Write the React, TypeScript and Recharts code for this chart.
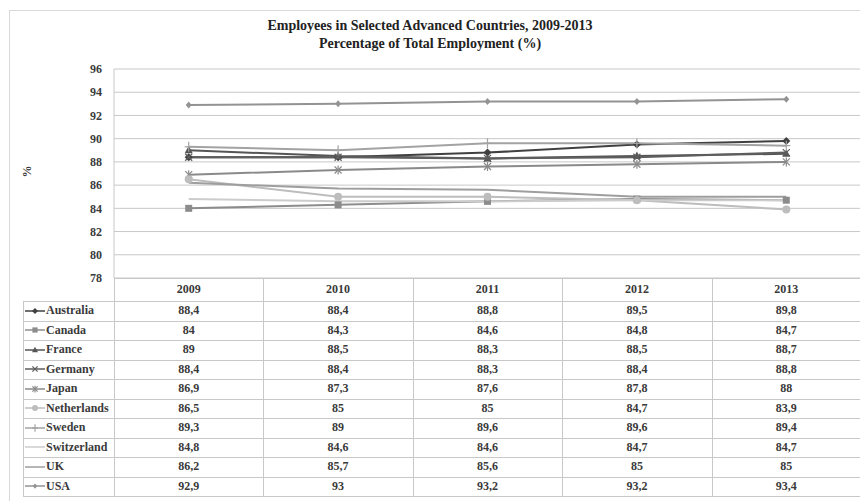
import React from 'react';
import { LineChart, Line, XAxis, YAxis, CartesianGrid } from 'recharts';

const years = ['2009', '2010', '2011', '2012', '2013'];
const yTicks = [78, 80, 82, 84, 86, 88, 90, 92, 94, 96];

const australia = [88.4, 88.4, 88.8, 89.5, 89.8];
const canada = [84, 84.3, 84.6, 84.8, 84.7];
const france = [89, 88.5, 88.3, 88.5, 88.7];
const germany = [88.4, 88.4, 88.3, 88.4, 88.8];
const japan = [86.9, 87.3, 87.6, 87.8, 88];
const netherlands = [86.5, 85, 85, 84.7, 83.9];
const sweden = [89.3, 89, 89.6, 89.6, 89.4];
const switzerland = [84.8, 84.6, 84.6, 84.7, 84.7];
const uk = [86.2, 85.7, 85.6, 85, 85];
const usa = [92.9, 93, 93.2, 93.2, 93.4];

type Shape = 'diamond' | 'square' | 'triangle' | 'x' | 'star' | 'circle' | 'plus' | 'none' | 'smalldiamond';

const series: { name: string; values: number[]; color: string; shape: Shape }[] = [
  { name: 'Australia', values: australia, color: '#404040', shape: 'diamond' },
  { name: 'Canada', values: canada, color: '#8c8c8c', shape: 'square' },
  { name: 'France', values: france, color: '#555555', shape: 'triangle' },
  { name: 'Germany', values: germany, color: '#5e5e5e', shape: 'x' },
  { name: 'Japan', values: japan, color: '#8a8a8a', shape: 'star' },
  { name: 'Netherlands', values: netherlands, color: '#bdbdbd', shape: 'circle' },
  { name: 'Sweden', values: sweden, color: '#a3a3a3', shape: 'plus' },
  { name: 'Switzerland', values: switzerland, color: '#cccccc', shape: 'none' },
  { name: 'UK', values: uk, color: '#9e9e9e', shape: 'none' },
  { name: 'USA', values: usa, color: '#939393', shape: 'smalldiamond' },
];

const chartData = years.map((year, i) => {
  const row: Record<string, string | number> = { year };
  series.forEach((s) => (row[s.name] = s.values[i]));
  return row;
});

const FONT = '"Liberation Serif", "Times New Roman", serif';
const GRID = '#c8c8c8';
const TEXT = '#3a3a3a';
const PLOT_LEFT = 114;
const PLOT_W = 747;
const COL_W = PLOT_W / years.length;
const HEAD_TOP = 278;
const HEAD_H = 23;
const ROW_H = 19.5;

function marker(shape: Shape, color: string, cx: number, cy: number, k = 1, key?: string) {
  switch (shape) {
    case 'diamond':
      return <polygon key={key} points={`${cx},${cy - 4 * k} ${cx + 4 * k},${cy} ${cx},${cy + 4 * k} ${cx - 4 * k},${cy}`} fill={color} />;
    case 'smalldiamond':
      return <polygon key={key} points={`${cx},${cy - 3.5 * k} ${cx + 3 * k},${cy} ${cx},${cy + 3.5 * k} ${cx - 3 * k},${cy}`} fill={color} />;
    case 'square':
      return <rect key={key} x={cx - 3.5 * k} y={cy - 3.5 * k} width={7 * k} height={7 * k} fill={color} />;
    case 'triangle':
      return <polygon key={key} points={`${cx},${cy - 4.5 * k} ${cx + 4 * k},${cy + 3 * k} ${cx - 4 * k},${cy + 3 * k}`} fill={color} />;
    case 'x':
      return (
        <g key={key} stroke={color} strokeWidth={1.2}>
          <line x1={cx - 3.5 * k} y1={cy - 3.5 * k} x2={cx + 3.5 * k} y2={cy + 3.5 * k} />
          <line x1={cx - 3.5 * k} y1={cy + 3.5 * k} x2={cx + 3.5 * k} y2={cy - 3.5 * k} />
        </g>
      );
    case 'star':
      return (
        <g key={key} stroke={color} strokeWidth={1.2}>
          <line x1={cx - 3.5 * k} y1={cy - 3.5 * k} x2={cx + 3.5 * k} y2={cy + 3.5 * k} />
          <line x1={cx - 3.5 * k} y1={cy + 3.5 * k} x2={cx + 3.5 * k} y2={cy - 3.5 * k} />
          <line x1={cx} y1={cy - 4.5 * k} x2={cx} y2={cy + 4.5 * k} />
        </g>
      );
    case 'circle':
      return <circle key={key} cx={cx} cy={cy} r={4 * k} fill={color} />;
    case 'plus':
      return (
        <g key={key} stroke={color} strokeWidth={1.2}>
          <line x1={cx - 4 * k} y1={cy} x2={cx + 4 * k} y2={cy} />
          <line x1={cx} y1={cy - 5 * k} x2={cx} y2={cy + 5 * k} />
        </g>
      );
    default:
      return <g key={key} />;
  }
}

const makeDot = (shape: Shape, color: string) => (props: any) => {
  const { cx, cy, index } = props;
  if (cx == null || cy == null) return <g key={`d-${index}`} />;
  return marker(shape, color, cx, cy, 1, `d-${index}`);
};

const fmt = (v: number) => String(v).replace('.', ',');

const cellText: React.CSSProperties = {
  position: 'absolute',
  fontFamily: FONT,
  fontWeight: 'bold',
  fontSize: 12,
  color: TEXT,
  textAlign: 'center',
  lineHeight: `${ROW_H}px`,
};

function DataTable() {
  const left = 23;
  const right = PLOT_LEFT + PLOT_W;
  const bottom = HEAD_TOP + HEAD_H + ROW_H * series.length;
  const lines: React.ReactNode[] = [];
  // horizontal lines
  lines.push(<div key="ht" style={{ position: 'absolute', left: PLOT_LEFT, top: HEAD_TOP, width: PLOT_W, height: 1, background: GRID }} />);
  for (let r = 0; r <= series.length; r++) {
    const y = Math.round(HEAD_TOP + HEAD_H + r * ROW_H);
    lines.push(<div key={`h${r}`} style={{ position: 'absolute', left, top: y, width: right - left, height: 1, background: GRID }} />);
  }
  // vertical lines
  lines.push(<div key="vl" style={{ position: 'absolute', left, top: HEAD_TOP + HEAD_H, width: 1, height: bottom - HEAD_TOP - HEAD_H, background: GRID }} />);
  for (let c = 0; c <= years.length; c++) {
    const x = Math.round(PLOT_LEFT + c * COL_W);
    lines.push(<div key={`v${c}`} style={{ position: 'absolute', left: x, top: HEAD_TOP, width: 1, height: bottom - HEAD_TOP, background: GRID }} />);
  }
  return (
    <>
      {lines}
      {years.map((y, c) => (
        <div key={`y${y}`} style={{ ...cellText, left: PLOT_LEFT + c * COL_W, top: HEAD_TOP, width: COL_W, lineHeight: `${HEAD_H}px` }}>
          {y}
        </div>
      ))}
      {series.map((s, r) => (
        <React.Fragment key={s.name}>
          <div style={{ ...cellText, left: left + 2, top: HEAD_TOP + HEAD_H + r * ROW_H, width: PLOT_LEFT - left - 2, textAlign: 'left', display: 'flex', alignItems: 'center', height: ROW_H }}>
            <svg width={20} height={12} style={{ marginRight: 1, flex: 'none' }}>
              <line x1={0} y1={6} x2={20} y2={6} stroke={s.color} strokeWidth={1.5} />
              {marker(s.shape, s.color, 10, 6, 0.75)}
            </svg>
            <span>{s.name}</span>
          </div>
          {s.values.map((v, c) => (
            <div key={c} style={{ ...cellText, left: PLOT_LEFT + c * COL_W, top: HEAD_TOP + HEAD_H + r * ROW_H, width: COL_W }}>
              {fmt(v)}
            </div>
          ))}
        </React.Fragment>
      ))}
    </>
  );
}

export default function App() {
  return (
    <div style={{ position: 'absolute', left: 0, top: 0, width: 860, height: 501, overflow: 'hidden', background: '#fff' }}>
      <div style={{ position: 'absolute', left: 9, top: 10, width: 900, height: 600, border: '1px solid #d9d9d9' }} />
      <div style={{ position: 'absolute', left: 0, top: 17, width: 860, textAlign: 'center', fontFamily: FONT, fontWeight: 'bold', fontSize: 14, lineHeight: '18px', color: '#222' }}>
        Employees in Selected Advanced Countries, 2009-2013
        <br />
        Percentage of Total Employment (%)
      </div>
      <div style={{ position: 'absolute', left: 21, top: 164, transform: 'rotate(-90deg)', fontFamily: FONT, fontWeight: 'bold', fontSize: 12, color: TEXT }}>%</div>
      <div style={{ position: 'absolute', left: 0, top: 0 }}>
        <LineChart width={PLOT_LEFT + PLOT_W} height={300} data={chartData} margin={{ top: 69, right: 0, left: 0, bottom: 22 }}>
          <CartesianGrid vertical={false} stroke={GRID} />
          <XAxis dataKey="year" hide padding={{ left: COL_W / 2, right: COL_W / 2 }} />
          <YAxis
            width={PLOT_LEFT}
            domain={[78, 96]}
            ticks={yTicks}
            interval={0}
            tickLine={false}
            tickSize={0}
            tickMargin={12}
            axisLine={{ stroke: GRID }}
            tick={{ fill: TEXT, fontSize: 12, fontFamily: FONT, fontWeight: 'bold' }}
          />
          {series.map((s) => (
            <Line
              key={s.name}
              type="linear"
              dataKey={s.name}
              stroke={s.color}
              strokeWidth={2}
              dot={makeDot(s.shape, s.color)}
              activeDot={false}
              isAnimationActive={false}
            />
          ))}
        </LineChart>
      </div>
      <DataTable />
    </div>
  );
}
